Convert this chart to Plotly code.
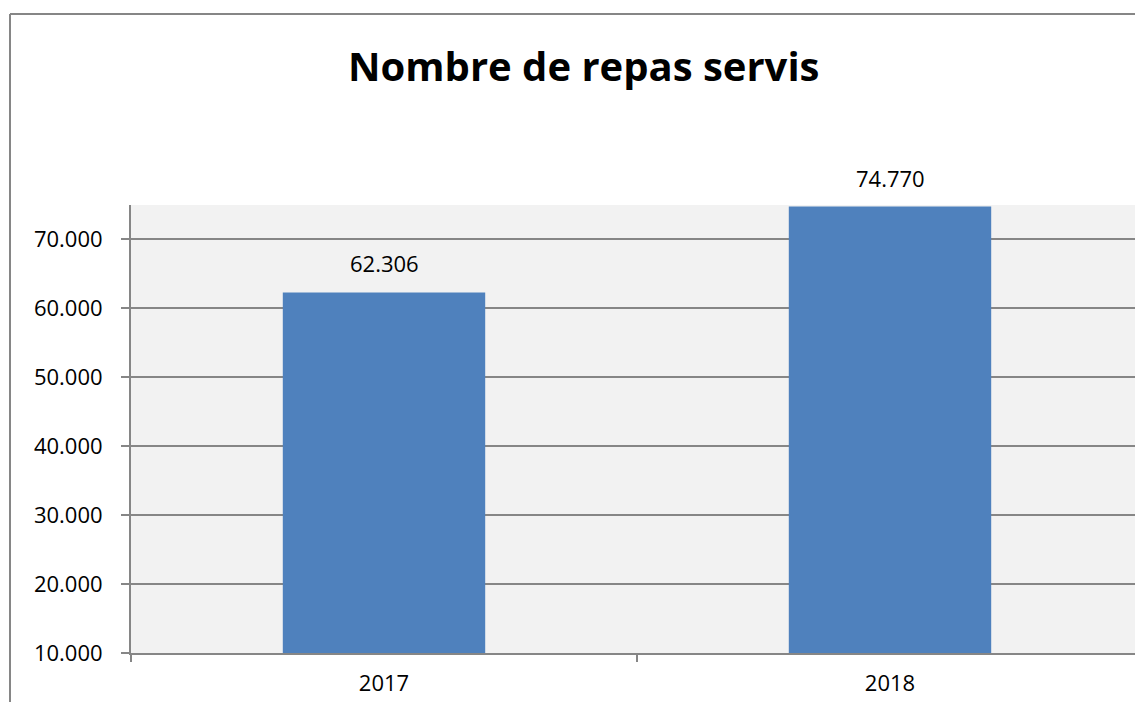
import plotly.graph_objects as go

categories = ["2017", "2018"]
values = [62306, 74770]
label_texts = ["62.306", "74.770"]
y_tick_vals = [10000, 20000, 30000, 40000, 50000, 60000, 70000]
y_tick_text = ["10.000", "20.000", "30.000", "40.000", "50.000", "60.000", "70.000"]

OFF = 8  # default page body margin
W, H = 1143 - OFF, 702 - OFF
# plot area in screenshot pixels: x 131..1143, y 205..653
L = 131 - OFF
T = 205 - OFF
R = 0
B = 702 - 653
pw = W - L - R
ph = H - T - B

def px_x(x):
    return (x - OFF - L) / pw

def px_y(y):
    return (H - B - (y - OFF)) / ph

FONT = "Open Sans"
GRAY = "#868686"

fig = go.Figure()
fig.add_trace(go.Bar(
    x=categories, y=values,
    marker=dict(color="#4F81BD", line=dict(width=0)),
    width=0.4,
    hoverinfo="x+y",
))

for i, (v, t) in enumerate(zip(values, label_texts)):
    fig.add_annotation(x=i, y=v, text=t, showarrow=False, yanchor="bottom",
                       yshift=12, font=dict(family=FONT, size=22, color="#000000"))

fig.add_annotation(xref="paper", yref="paper", x=px_x(583), y=px_y(66),
                   text="<b>Nombre de repas servis</b>", showarrow=False,
                   xanchor="center", yanchor="middle",
                   font=dict(family=FONT, size=40, color="#000000"))

# outer chart border (left and top)
fig.add_shape(type="line", xref="paper", yref="paper",
              x0=px_x(10), x1=px_x(10), y0=px_y(14), y1=px_y(710),
              line=dict(color=GRAY, width=2))
fig.add_shape(type="line", xref="paper", yref="paper",
              x0=px_x(10), x1=px_x(1150), y0=px_y(14), y1=px_y(14),
              line=dict(color=GRAY, width=2))

fig.update_layout(
    width=W, height=H,
    margin=dict(l=L, r=R, t=T, b=B, pad=0, autoexpand=False),
    paper_bgcolor="#FFFFFF",
    plot_bgcolor="#F2F2F2",
    showlegend=False,
    separators=",.",
    font=dict(family=FONT, size=22, color="#000000"),
    xaxis=dict(
        type="category",
        range=[-0.5, 1.5],
        automargin=False,
        showgrid=False,
        showline=True, linecolor=GRAY, linewidth=2,
        ticks="outside", tickson="boundaries", ticklen=7, tickwidth=2, tickcolor=GRAY,
        tickfont=dict(family=FONT, size=22, color="#000000"),
        tickangle=0,
        ticklabelstandoff=10,
    ),
    yaxis=dict(
        range=[10000, 75000],
        automargin=False,
        tickvals=y_tick_vals, ticktext=y_tick_text,
        showgrid=True, gridcolor=GRAY, gridwidth=2,
        showline=True, linecolor=GRAY, linewidth=2,
        ticks="outside", ticklen=8, tickwidth=2, tickcolor=GRAY,
        tickfont=dict(family=FONT, size=22, color="#000000"),
        ticklabelstandoff=14,
        zeroline=False,
    ),
)

fig.write_html("out.html")
